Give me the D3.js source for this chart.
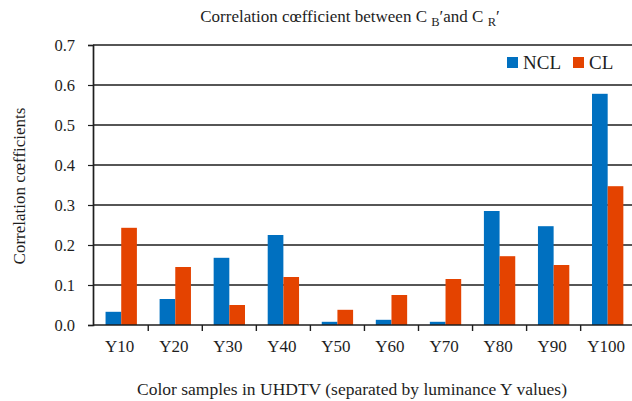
<!DOCTYPE html>
<html>
<head>
<meta charset="utf-8">
<script src="https://cdn.jsdelivr.net/npm/d3@7/dist/d3.min.js"></script>
<style>
  body { margin: 0; background: #fff; }
  svg, svg text { font-family: "Liberation Serif", "DejaVu Serif", serif; }
</style>
</head>
<body>
<svg id="chart" width="632" height="401"></svg>
<script>
// Correlation coefficients per luminance sample
const categories = ["Y10", "Y20", "Y30", "Y40", "Y50", "Y60", "Y70", "Y80", "Y90", "Y100"];
const seriesNames = ["NCL", "CL"];
const ncl = [0.033, 0.065, 0.168, 0.225, 0.008, 0.013, 0.008, 0.285, 0.247, 0.578];
const cl  = [0.243, 0.145, 0.050, 0.120, 0.038, 0.075, 0.115, 0.172, 0.150, 0.347];
const yTicks = [0, 0.1, 0.2, 0.3, 0.4, 0.5, 0.6, 0.7];
const colors = ["#0070C0", "#E44300"];
const FONT = "Liberation Serif, DejaVu Serif, serif";
const INK = "#1e1e1e";

const svg = d3.select("#chart");
const axisX = 93, plotRight = 632, baseY = 325, topY = 45;

const xStep = d3.scaleBand().domain(categories).range([94.2, 634.7]).padding(0);
const x = d3.scaleBand().domain(categories).range([94.2, 634.7])
  .paddingInner(0.42).paddingOuter(0.21);
const xSub = d3.scaleBand().domain(seriesNames).range([0, x.bandwidth()]);
const y = d3.scaleLinear().domain([0, 0.7]).range([baseY, topY]);

// horizontal gridlines
svg.append("g").selectAll("line").data(yTicks.slice(1)).join("line")
  .attr("x1", axisX).attr("x2", plotRight)
  .attr("y1", d => y(d)).attr("y2", d => y(d))
  .attr("stroke", INK).attr("stroke-width", 1.7);

// bars
const rows = categories.map((c, i) => ({ c, vals: [ncl[i], cl[i]] }));
const groups = svg.append("g").selectAll("g").data(rows).join("g")
  .attr("transform", d => `translate(${x(d.c)},0)`);
groups.selectAll("rect").data(d => d.vals.map((v, j) => ({ v, s: seriesNames[j], j })))
  .join("rect")
  .attr("x", d => xSub(d.s))
  .attr("width", xSub.bandwidth())
  .attr("y", d => y(d.v))
  .attr("height", d => y(0) - y(d.v))
  .attr("fill", d => colors[d.j]);

// y axis
const yAxis = d3.axisLeft(y).tickValues(yTicks).tickFormat(d3.format(".1f"))
  .tickSize(5).tickPadding(13);
const gy = svg.append("g").attr("transform", `translate(${axisX},0)`).call(yAxis)
  .attr("font-family", FONT);
gy.select(".domain").attr("stroke", INK).attr("stroke-width", 1.7);
gy.selectAll(".tick line").attr("stroke", INK).attr("stroke-width", 1.2);
gy.selectAll("text").attr("font-size", 16.5).attr("fill", INK).attr("font-family", FONT);

// x axis: baseline with ticks at category boundaries
const gx = svg.append("g").attr("transform", `translate(0,${baseY})`);
gx.append("line").attr("x1", axisX).attr("x2", plotRight)
  .attr("stroke", INK).attr("stroke-width", 1.7);
gx.selectAll("line.tk").data(categories.slice(1)).join("line").attr("class", "tk")
  .attr("x1", d => xStep(d)).attr("x2", d => xStep(d))
  .attr("y1", 0).attr("y2", 6).attr("stroke", INK).attr("stroke-width", 1.4);
gx.selectAll("text").data(categories).join("text")
  .attr("x", d => xStep(d) + xStep.bandwidth() / 2 - 1.5)
  .attr("y", 27)
  .attr("text-anchor", "middle").attr("font-size", 17).attr("fill", INK)
  .attr("font-family", FONT)
  .text(d => d);

// axis titles
svg.append("text").attr("x", 352).attr("y", 395).attr("text-anchor", "middle")
  .attr("font-size", 17.5).attr("fill", INK).attr("font-family", FONT)
  .text("Color samples in UHDTV (separated by luminance Y values)");
svg.append("text").attr("transform", "translate(25,186) rotate(-90)")
  .attr("text-anchor", "middle").attr("font-size", 17).attr("fill", INK)
  .attr("font-family", FONT)
  .text("Correlation cœfficients");

// chart title with subscripts
const title = svg.append("text").attr("x", 350).attr("y", 22).attr("text-anchor", "middle")
  .attr("font-size", 17).attr("fill", INK).attr("font-family", FONT);
title.append("tspan").text("Correlation cœfficient between C ");
title.append("tspan").attr("dy", 4).attr("font-size", 12.5).text("B");
title.append("tspan").attr("dy", -4).text("′and C ");
title.append("tspan").attr("dy", 4).attr("font-size", 12.5).text("R");
title.append("tspan").attr("dy", -4).text("′");

// legend
const legendX = [507, 573];
const lg = svg.append("g").selectAll("g").data(seriesNames).join("g")
  .attr("transform", (d, i) => `translate(${legendX[i]},57)`);
lg.append("rect").attr("width", 11).attr("height", 11).attr("fill", (d, i) => colors[i]);
lg.append("text").attr("x", 16).attr("y", 12).attr("font-size", 19).attr("fill", INK)
  .attr("font-family", FONT)
  .text(d => d);
</script>
</body>
</html>
